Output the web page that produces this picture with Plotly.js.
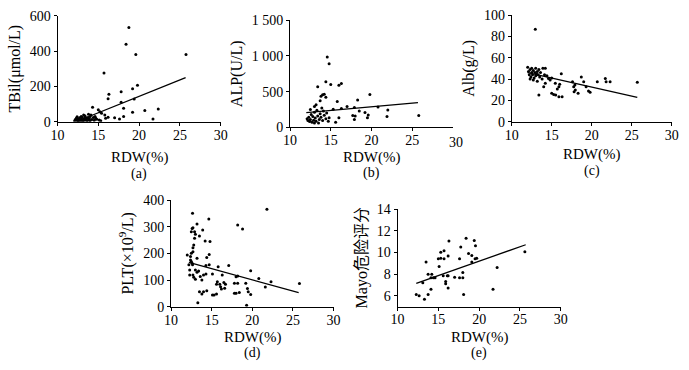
<!DOCTYPE html>
<html>
<head>
<meta charset="utf-8">
<script src="https://cdn.plot.ly/plotly-3.0.1.min.js"></script>
<style>html,body{margin:0;padding:0;background:#fff}#chart{width:689px;height:370px}</style>
</head>
<body>
<div id="chart"></div>
<script>
// ---- (a) TBil vs RDW ----
const aX = [18.75,18.4,19.6,25.75,15.7,19.8,19.2,17.8,16.3,16.2,17.8,19.4,14.3,20.7,22.35,19.2,18.1,21.7,15.0,15.2,15.4,16.2,17.0,17.6,18.1,15.8,15.9,14.6,14.7,13.8,14.1,13.35,13.55,
  12.1,12.2,12.3,12.4,12.5,12.5,12.6,12.7,12.8,12.9,13.0,13.0,13.1,13.2,13.3,13.4,13.5,13.6,13.7,13.8,13.9,14.0,14.2,14.4,14.5,14.8,15.1,15.3,12.4,12.9,13.2,14.0];
const aY = [533,438,381,381,276,206,187,170,156,130,110,128,82,63,72,53,76,15,67,57,48,25,23,15,29,38,19,29,19,42,38,34,19,
  5,12,20,8,15,3,10,22,6,14,9,25,4,16,8,28,12,5,22,10,17,6,12,24,8,14,10,5,28,30,38,30];
const aLineX = [12.5, 25.7];
const aLineY = [4, 250];

// ---- (b) ALP vs RDW ----
const bX = [14.57,14.8,14.4,13.4,15.0,16.0,16.3,14.0,14.2,14.4,13.8,13.7,19.8,18.3,15.8,13.2,13.0,17.0,17.9,20.8,22.0,21.9,19.5,19.2,18.5,17.7,17.9,16.0,15.6,14.7,14.8,15.3,16.3,25.8,19.6,18.0,
  12.1,12.2,12.3,12.4,12.5,12.6,12.7,12.8,12.9,13.0,13.1,13.2,13.3,13.4,13.5,13.6,13.7,13.8,14.0,14.1,14.2,14.4,14.5,13.0,12.5,13.9];
const bY = [985,890,640,570,600,590,615,455,465,420,435,372,460,383,360,315,290,290,277,283,243,150,134,206,229,167,110,134,72,86,134,253,263,165,174,160,
  120,95,140,80,110,180,70,150,100,210,130,85,240,160,60,110,190,140,95,230,170,120,200,60,250,270];
const bLineX = [12.0, 25.7];
const bLineY = [206, 345];

// ---- (c) Alb vs RDW ----
const cX = [12.95,25.7,21.8,22.3,21.7,20.7,19.8,19.6,19.3,19.0,18.7,17.75,17.95,17.8,17.6,17.9,18.3,16.2,16.0,16.3,15.9,15.5,15.25,15.0,15.45,15.9,15.7,14.6,15.0,13.4,14.0,14.2,13.9,14.2,14.8,
  12.0,12.1,12.2,12.3,12.4,12.5,12.5,12.6,12.7,12.8,12.9,13.0,13.0,13.1,13.2,13.3,13.4,13.5,12.3,12.7,13.6,13.8,14.1,14.4,13.2];
const cY = [86.6,37,37.5,37.5,40.6,37.5,27.5,28.8,32.8,37.5,42,32.8,29.7,28.1,37.5,34.4,26.6,45,35,23.4,23.4,25,25.6,26.6,36,32.8,30.6,40.6,41,25,32.8,36,50,50,39,
  51,47,44,49,42,46,50,44,48,41,46,50,43,45,47,44,49,42,40,39,46,40,44,43,38];
const cLineX = [12.0, 25.7];
const cLineY = [45.9, 22.8];

// ---- (d) PLT vs RDW ----
const dX = [12.65,21.8,14.65,13.2,12.7,12.9,12.5,12.6,13.0,13.5,13.9,12.9,14.2,14.8,12.8,12.7,12.7,12.0,12.4,12.5,14.7,14.4,18.2,18.8,12.4,12.5,12.6,12.65,13.2,14.3,14.7,15.8,17.1,12.2,12.3,12.3,13.0,13.2,13.4,12.7,12.8,13.0,13.6,13.8,14.0,14.3,15.1,16.3,15.7,16.5,16.7,16.6,15.6,16.0,16.1,16.2,17.8,18.2,19.2,19.8,20.8,22.3,21.6,25.8,13.3,13.5,13.8,14.0,14.4,15.1,15.3,15.6,17.8,18.0,18.4,19.5,19.8,19.3,19.4,18.0,18.2];
const dY = [350,365,329,310,296,281,281,293,272,265,288,257,246,244,231,221,206,194,188,200,196,184,306,291,175,169,163,157,182,154,157,150,154,157,138,119,138,129,134,119,110,103,113,100,119,123,123,119,94,91,84,69,84,84,75,66,88,88,88,135,106,94,74,87,15,56,48,56,60,44,44,48,50,50,53,56,46,5,68,112,115];
const dLineX = [12.2, 25.7];
const dLineY = [166, 53];

// ---- (e) Mayo risk score vs RDW ----
const eX = [12.3,12.65,13.3,13.75,14.1,13.1,13.75,14.2,14.1,14.4,14.6,13.5,15.1,15.0,15.3,15.7,15.3,15.7,16.2,16.3,15.6,16.1,16.2,15.9,15.9,16.2,17.0,17.6,17.75,17.6,18.0,18.0,18.1,18.4,18.7,19.1,19.5,19.1,19.4,19.55,19.7,21.7,22.2,25.6];
const eY = [6.1,6.0,5.66,6.1,6.6,7.2,7.97,7.97,7.66,7.66,7.66,9.1,8.7,9.4,9.45,9.4,10.0,10.15,9.66,11.05,7.85,7.85,7.85,7.3,7.1,6.7,7.7,9.4,10.5,7.66,7.66,8.15,6.1,11.3,9.9,9.7,9.4,9.1,11.1,10.6,9.45,6.6,8.6,10.06];
const eLineX = [12.3, 25.7];
const eLineY = [7.14, 10.7];

const xTickVals = [10,15,20,25,30];
const panelLabels = ['(a)','(b)','(c)','(d)','(e)'];
const xTitle = 'RDW(%)';
const yTitles = ['TBil(μmol/L)','ALP(U/L)','Alb(g/L)','PLT(×10<sup>9</sup>/L)','Mayo危险评分'];

const FONT = "'Liberation Serif', 'Times New Roman', 'Noto Sans CJK SC', serif";
const W = 689, H = 370;
// panel boxes in pixels: [left, right, top, bottom]
const boxes = [
  [57.5, 220.7, 15.7, 121.7],
  [290, 453, 20.3, 127.3],
  [511.7, 671.7, 15, 121.7],
  [171, 333.6, 200, 306.7],
  [397.5, 560.8, 209, 306.5]
];
// offsets (px below the x axis) of the x title and the panel label
const titleOff = [[36, 52.5], [30, 46], [33, 49], [30.5, 46.5], [30.5, 46.5]];
const series = [[aX,aY,aLineX,aLineY],[bX,bY,bLineX,bLineY],[cX,cY,cLineX,cLineY],[dX,dY,dLineX,dLineY],[eX,eY,eLineX,eLineY]];
const yRanges = [[0,600],[0,1500],[0,100],[0,400],[5,14]];
const yTicks = [
  {vals:[0,200,400,600]},
  {vals:[0,500,1000,1500], text:['0','500','1 000','1 500']},
  {vals:[0,20,40,60,80,100]},
  {vals:[0,100,200,300,400]},
  {vals:[6,8,10,12,14]}
];

const traces = [];
const layout = {
  width: W, height: H,
  margin: {l:0, r:0, t:0, b:0},
  paper_bgcolor: '#fff', plot_bgcolor: '#fff',
  showlegend: false,
  font: {family: FONT, color: '#000', size: 14},
  annotations: []
};

series.forEach((s, i) => {
  const k = i === 0 ? '' : String(i+1);
  traces.push({x: s[0], y: s[1], xaxis: 'x'+k, yaxis: 'y'+k, type: 'scatter', mode: 'markers',
    marker: {color: '#000', size: 3}, hoverinfo: 'x+y'});
  traces.push({x: s[2], y: s[3], xaxis: 'x'+k, yaxis: 'y'+k, type: 'scatter', mode: 'lines',
    line: {color: '#000', width: 1.3}});
  const b = boxes[i];
  const axBase = {showline: true, linecolor: '#000', linewidth: 1, ticks: 'outside', ticklen: 3,
    tickcolor: '#000', tickwidth: 1, showgrid: false, zeroline: false, tickfont: {family: FONT, size: 14, color: '#000'}};
  layout['xaxis'+k] = Object.assign({}, axBase, {
    domain: [b[0]/W, b[1]/W], anchor: 'y'+k, range: [10, 30],
    tickvals: i === 1 ? [10,15,20,25] : xTickVals,
    ticklabelstandoff: -3
  });
  layout['yaxis'+k] = Object.assign({}, axBase, {
    domain: [1 - b[3]/H, 1 - b[2]/H], anchor: 'x'+k, range: yRanges[i],
    tickvals: yTicks[i].vals, ticktext: yTicks[i].text,
    title: {text: yTitles[i], font: {family: FONT, size: 16}, standoff: 5}
  });
  const cx = ((b[0]+b[1])/2)/W;
  layout.annotations.push({text: xTitle, xref: 'paper', yref: 'paper',
    x: cx, y: 1 - (b[3] + titleOff[i][0])/H, showarrow: false,
    xanchor: 'center', yanchor: 'middle', font: {family: FONT, size: 15}});
  layout.annotations.push({text: panelLabels[i], xref: 'paper', yref: 'paper',
    x: cx, y: 1 - (b[3] + titleOff[i][1])/H, showarrow: false,
    xanchor: 'center', yanchor: 'middle', font: {family: FONT, size: 14}});
});
// lowered "30" tick label of panel (b), as in the original
layout.annotations.push({text: '30', xref: 'paper', yref: 'paper', x: 456/W, y: 1 - 142/H,
  showarrow: false, xanchor: 'center', yanchor: 'middle', font: {family: FONT, size: 14}});

Plotly.newPlot('chart', traces, layout, {staticPlot: true});
</script>
</body>
</html>
